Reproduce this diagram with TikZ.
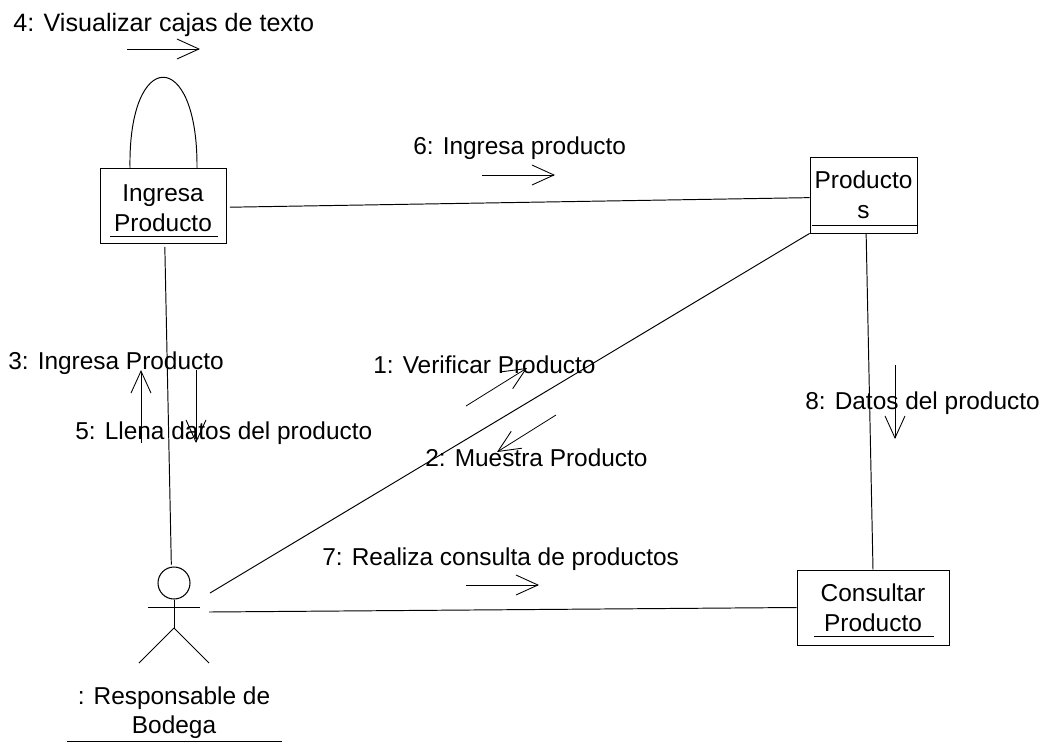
\documentclass[tikz,border=0pt]{standalone}
\usepackage{xcolor}
\usepackage{fontspec}
\setmainfont{Liberation Sans}
\usetikzlibrary{arrows.meta}

\tikzset{
  obj/.style={draw,rectangle,line width=0.5pt,inner sep=0pt,align=center,font=\fontsize{13.9}{17}\selectfont},
  lbl/.style={inner sep=0pt,anchor=west,font=\fontsize{13.9}{17}\selectfont},
  link/.style={line width=0.55pt},
  msg/.style={line width=0.45pt,-{Straight Barb[length=0.44cm,width=0.4cm,line width=0.5pt]}},
}

\begin{document}
\begin{tikzpicture}[x=0.02cm,y=-0.02cm]
    \useasboundingbox (0,0) rectangle (1045,745);
    % objects
    \node[obj,minimum width=2.52cm,minimum height=1.5cm] (ingresa) at (163,205.5) {\rule{0pt}{13pt}Ingresa\\Producto};
    \node[obj,minimum width=2.14cm,minimum height=1.52cm] (productos) at (863.5,195) {Producto\\s};
    \node[obj,minimum width=3.04cm,minimum height=1.5cm] (consultar) at (873,607.5) {Consultar\\Producto};
    \draw[link] (110,236) to (218,236);
    \draw[link] (812,225) to (918,225);
    \draw[link] (814,636) to (934,636);
    % actor
    \node[draw,circle,line width=0.6pt,minimum size=0.64cm,inner sep=0pt] (actor) at (174,583) {};
    \coordinate (hip) at (174,628);
    \coordinate (arml) at (148,607);
    \coordinate (armr) at (200,607);
    \coordinate (legl) at (139,663);
    \coordinate (legr) at (209,663);
    \coordinate (actorup) at (210,593);
    \coordinate (actorside) at (209,612);
    \draw[link] (actor) to (hip);
    \draw[link] (arml) to (armr);
    \draw[link] (legl) to (hip);
    \draw[link] (hip) to (legr);
    \node[inner sep=0pt,align=center,font=\fontsize{13.9}{16.5}\selectfont] (actorname) at (174,713) {: Responsable de\\Bodega};
    \draw[link] (67,741) to (282,741);
    % links
    \draw[link,shorten <=2pt] ([yshift=-1pt]ingresa.east) to ([yshift=-1.5pt]productos.west);
    \draw[link,shorten <=2pt,shorten >=1pt] ([xshift=1pt]ingresa.south) to ([xshift=-1.5pt]actor.north);
    \draw[link] (productos.south west) to (actorup);
    \draw[link] (actorside) to (consultar.west);
    \draw[link] ([xshift=1.5pt]productos.south) to (consultar.north);
    \draw[link] (130,168) .. controls (128,47) and (198,47) .. (197,168);
    % messages
    \coordinate (m1a) at (466,406);
    \coordinate (m1b) at (527,368);
    \coordinate (m2a) at (556,415);
    \coordinate (m2b) at (497,452);
    \coordinate (m3a) at (141,443);
    \coordinate (m3b) at (141,370);
    \coordinate (m4a) at (127,49);
    \coordinate (m4b) at (200,49);
    \coordinate (m5a) at (196,370);
    \coordinate (m5b) at (196,443);
    \coordinate (m6a) at (482,175);
    \coordinate (m6b) at (555,175);
    \coordinate (m7a) at (466,585);
    \coordinate (m7b) at (539,585);
    \coordinate (m8a) at (895,365);
    \coordinate (m8b) at (895,439);
    \draw[msg] (m1a) to (m1b);
    \draw[msg] (m2a) to (m2b);
    \draw[msg] (m3a) to (m3b);
    \draw[msg] (m4a) to (m4b);
    \draw[msg] (m5a) to (m5b);
    \draw[msg] (m6a) to (m6b);
    \draw[msg] (m7a) to (m7b);
    \draw[msg] (m8a) to (m8b);
    \node[lbl] (t1) at (373,365) {1: Verificar Producto};
    \node[lbl] (t2) at (425,458) {2: Muestra Producto};
    \node[lbl] (t3) at (8,363) {3: Ingresa Producto};
    \node[lbl,font=\fontsize{14.3}{17}\selectfont] (t4) at (13,25) {4: Visualizar cajas de texto};
    \node[lbl] (t5) at (75,433) {5: Llena datos del producto};
    \node[lbl] (t6) at (413,148) {6: Ingresa producto};
    \node[lbl] (t7) at (322,559) {7: Realiza consulta de productos};
    \node[lbl] (t8) at (805,403) {8: Datos del producto};
\end{tikzpicture}
\end{document}
